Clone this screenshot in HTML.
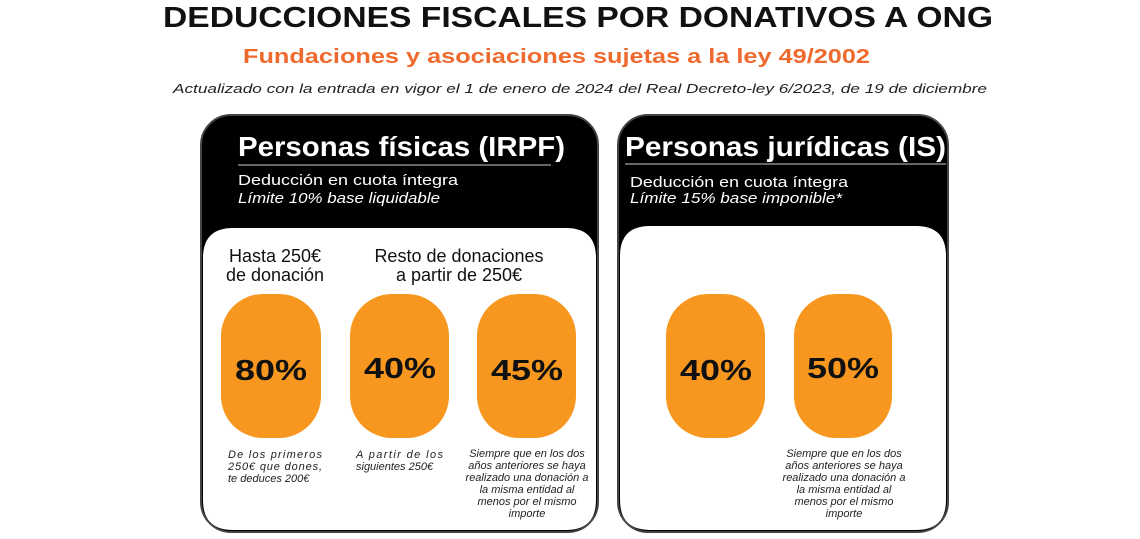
<!DOCTYPE html>
<html><head><meta charset="utf-8"><style>
html,body{margin:0;padding:0;background:#fff;}
svg{display:block;}
text{font-family:"Liberation Sans",sans-serif;}
</style></head><body>
<svg width="1140" height="539" viewBox="0 0 1140 539" xmlns="http://www.w3.org/2000/svg">
<text x="163" y="27" font-size="29" font-weight="bold" fill="#111" textLength="830" lengthAdjust="spacingAndGlyphs">DEDUCCIONES FISCALES POR DONATIVOS A ONG</text>
<text x="243" y="63" font-size="20" font-weight="bold" fill="#ef6a2e" textLength="627" lengthAdjust="spacingAndGlyphs">Fundaciones y asociaciones sujetas a la ley 49/2002</text>
<text x="173" y="93" font-size="13" font-style="italic" fill="#222" textLength="814" lengthAdjust="spacingAndGlyphs">Actualizado con la entrada en vigor el 1 de enero de 2024 del Real Decreto-ley 6/2023, de 19 de diciembre</text>

<!-- left card -->
<rect x="201" y="115" width="397" height="417" rx="30" fill="#000" stroke="#444" stroke-width="2"/>
<path d="M203 258 Q203 228 233 228 L566 228 Q596 228 596 258 L596 500 Q596 530 566 530 L233 530 Q203 530 203 500 Z" fill="#fff"/>
<text x="238" y="156" font-size="28" font-weight="bold" fill="#fff" textLength="327" lengthAdjust="spacingAndGlyphs">Personas físicas (IRPF)</text>
<line x1="238" y1="165" x2="551" y2="165" stroke="#888" stroke-width="1.5"/>
<text x="238" y="185" font-size="15" fill="#fff" textLength="220" lengthAdjust="spacingAndGlyphs">Deducción en cuota íntegra</text>
<text x="238" y="203" font-size="15" font-style="italic" fill="#fff" textLength="202" lengthAdjust="spacingAndGlyphs">Límite 10% base liquidable</text>

<text x="275" y="262" font-size="18" text-anchor="middle" fill="#111">Hasta 250€</text>
<text x="275" y="281" font-size="18" text-anchor="middle" fill="#111">de donación</text>
<text x="459" y="262" font-size="18" text-anchor="middle" fill="#111">Resto de donaciones</text>
<text x="459" y="281" font-size="18" text-anchor="middle" fill="#111">a partir de 250€</text>

<g fill="#f7971f">
<rect x="221" y="294" width="100" height="144" rx="42"/>
<rect x="350" y="294" width="99" height="144" rx="42"/>
<rect x="477" y="294" width="99" height="144" rx="42"/>
<rect x="666" y="294" width="99" height="144" rx="42"/>
<rect x="794" y="294" width="98" height="144" rx="42"/>
</g>
<g font-size="29" font-weight="bold" fill="#111" text-anchor="middle">
<text x="271" y="380" textLength="72" lengthAdjust="spacingAndGlyphs">80%</text>
<text x="400" y="378" textLength="72" lengthAdjust="spacingAndGlyphs">40%</text>
<text x="527" y="380" textLength="72" lengthAdjust="spacingAndGlyphs">45%</text>
<text x="716" y="380" textLength="72" lengthAdjust="spacingAndGlyphs">40%</text>
<text x="843" y="378" textLength="72" lengthAdjust="spacingAndGlyphs">50%</text>
</g>

<g font-size="11" font-style="italic" fill="#222">
<text x="228" y="458" textLength="94" lengthAdjust="spacing">De los primeros</text>
<text x="228" y="470" textLength="94" lengthAdjust="spacing">250€ que dones,</text>
<text x="228" y="482">te deduces 200€</text>
<text x="356" y="458" textLength="87" lengthAdjust="spacing">A partir de los</text>
<text x="356" y="470">siguientes 250€</text>
</g>
<g font-size="11" font-style="italic" fill="#222" text-anchor="middle">
<text x="527" y="457">Siempre que en los dos</text>
<text x="527" y="469">años anteriores se haya</text>
<text x="527" y="481">realizado una donación a</text>
<text x="527" y="493">la misma entidad al</text>
<text x="527" y="505">menos por el mismo</text>
<text x="527" y="517">importe</text>
<text x="844" y="457">Siempre que en los dos</text>
<text x="844" y="469">años anteriores se haya</text>
<text x="844" y="481">realizado una donación a</text>
<text x="844" y="493">la misma entidad al</text>
<text x="844" y="505">menos por el mismo</text>
<text x="844" y="517">importe</text>
</g>

<!-- right card -->
<rect x="618" y="115" width="330" height="417" rx="30" fill="#000" stroke="#444" stroke-width="2"/>
<path d="M620 256 Q620 226 650 226 L916 226 Q946 226 946 256 L946 500 Q946 530 916 530 L650 530 Q620 530 620 500 Z" fill="#fff"/>
<text x="625" y="156" font-size="28" font-weight="bold" fill="#fff" textLength="321" lengthAdjust="spacingAndGlyphs">Personas jurídicas (IS)</text>
<line x1="625" y1="164" x2="946" y2="164" stroke="#888" stroke-width="1.5"/>
<text x="630" y="187" font-size="15" fill="#fff" textLength="218" lengthAdjust="spacingAndGlyphs">Deducción en cuota íntegra</text>
<text x="630" y="203" font-size="15" font-style="italic" fill="#fff" textLength="212" lengthAdjust="spacingAndGlyphs">Límite 15% base imponible*</text>

<!-- redraw blobs on top of right white -->
<g fill="#f7971f">
<rect x="666" y="294" width="99" height="144" rx="42"/>
<rect x="794" y="294" width="98" height="144" rx="42"/>
</g>
<g font-size="29" font-weight="bold" fill="#111" text-anchor="middle">
<text x="716" y="380" textLength="72" lengthAdjust="spacingAndGlyphs">40%</text>
<text x="843" y="378" textLength="72" lengthAdjust="spacingAndGlyphs">50%</text>
</g>
<g font-size="11" font-style="italic" fill="#222" text-anchor="middle">
<text x="844" y="457">Siempre que en los dos</text>
<text x="844" y="469">años anteriores se haya</text>
<text x="844" y="481">realizado una donación a</text>
<text x="844" y="493">la misma entidad al</text>
<text x="844" y="505">menos por el mismo</text>
<text x="844" y="517">importe</text>
</g>
</svg>
</body></html>
